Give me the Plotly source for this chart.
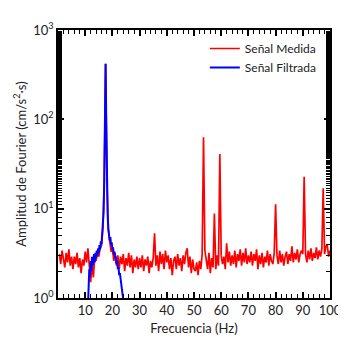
import plotly.graph_objects as go

# Red measured signal: frequencies 0.5..100 step 0.5 (listed per 10 Hz)
freq_red = [i * 0.5 for i in range(1, 201)]
amp_red = [
    3.1, 2.4, 3.4, 2.7, 2.2, 3.2, 2.5, 3.5, 2.3, 2.9, 2.1, 2.9, 2.4, 3.2, 2.2, 2.8, 1.9, 2.7, 2.3, 3.3,
    2.5, 3.6, 2.2, 1.5, 2.4, 1.7, 2.9, 2.6, 3.2, 2.9, 3.6, 3.9, 6.0, 20, 420, 20, 5.8, 4.2, 3.3, 3.6,
    2.6, 3.2, 2.3, 3.0, 2.1, 2.9, 2.4, 3.1, 2.0, 2.8, 2.3, 3.2, 2.2, 3.0, 1.9, 2.7, 2.2, 2.9, 2.1, 2.8,
    2.2, 3.0, 2.0, 2.7, 2.3, 2.9, 1.9, 2.6, 2.2, 2.8, 5.3, 2.3, 3.0, 2.0, 3.3, 2.4, 3.1, 2.1, 3.4, 2.5,
    3.0, 2.1, 2.8, 1.8, 2.6, 2.9, 2.1, 3.1, 2.3, 2.8, 2.0, 3.0, 2.4, 3.2, 3.6, 2.2, 2.9, 1.9, 2.7, 2.1,
    2.0, 2.5, 1.8, 2.6, 2.1, 3.1, 63, 3.4, 2.5, 2.1, 3.2, 1.9, 2.8, 2.2, 8.8, 2.1, 3.0, 2.3, 41, 3.0,
    2.4, 2.9, 2.1, 4.1, 2.5, 3.3, 2.3, 3.0, 2.4, 3.4, 2.2, 3.1, 2.6, 3.5, 2.3, 3.2, 2.5, 3.6, 2.4, 3.0,
    2.5, 3.3, 2.3, 3.1, 2.6, 3.5, 2.1, 3.0, 2.4, 3.2, 2.2, 2.9, 2.5, 3.4, 2.3, 3.1, 2.6, 2.4, 3.2, 11.2,
    3.0, 2.4, 3.4, 2.5, 3.1, 2.3, 2.9, 3.3, 2.4, 3.1, 2.6, 3.8, 2.5, 3.2, 2.7, 3.5, 2.5, 3.1, 3.4, 3.1,
    22.7, 3.1, 2.5, 3.4, 2.7, 3.6, 2.6, 3.2, 2.8, 3.7, 2.7, 3.4, 2.9, 3.5, 16.9, 3.1, 3.8, 3.9, 2.9, 3.4,
]

# Blue filtered signal: frequencies 11..24 step 0.25
freq_blue = [11 + i * 0.25 for i in range(53)]
amp_blue = [
    0.8, 1.5, 2.1, 1.7, 2.6, 2.0, 2.9, 2.3, 2.7, 3.1, 2.5, 3.2, 2.8, 3.4, 3.0, 3.6, 3.2, 3.9, 3.5, 4.3,
    4.0, 5.0, 6.5, 9.0, 20, 91, 420, 91, 20, 8.5, 6.0, 5.2, 4.4, 4.8, 3.9, 4.2, 3.5, 3.7, 3.1, 3.3,
    2.8, 2.9, 2.4, 2.6, 2.1, 2.2, 1.8, 1.9, 1.6, 1.5, 1.3, 1.15, 0.95,
]

x_ticks = [10, 20, 30, 40, 50, 60, 70, 80, 90, 100]
y_ticks = [1, 10, 100, 1000]
y_ticktext = ["10<sup>0</sup>", "10<sup>1</sup>", "10<sup>2</sup>", "10<sup>3</sup>"]

FONT = "Lato, Open Sans, sans-serif"

fig = go.Figure()
fig.add_trace(go.Scatter(x=freq_red, y=amp_red, mode="lines", name="Señal Medida",
                         line=dict(color="#ff0000", width=1.7)))
fig.add_trace(go.Scatter(x=freq_blue, y=amp_blue, mode="lines", name="Señal Filtrada",
                         line=dict(color="#0000ff", width=2)))
# invisible trace to carry the mirrored top/right axes
fig.add_trace(go.Scatter(x=freq_red[:2], y=amp_red[:2], xaxis="x2", yaxis="y2", mode="lines",
                         line=dict(width=0, color="rgba(0,0,0,0)"), showlegend=False, hoverinfo="skip"))

axis_common = dict(showgrid=False, zeroline=False, showline=True, linecolor="black", linewidth=1.6,
                   ticks="inside", tickcolor="black", tickwidth=1.6, ticklen=6,
                   tickfont=dict(family=FONT, size=13, color="#222"))
xminor = dict(ticks="inside", ticklen=4, dtick=2, tickcolor="black", tickwidth=1.3)
yminor = dict(ticks="inside", ticklen=4, tickcolor="black", tickwidth=1.3)

fig.update_layout(
    width=346, height=338,
    margin=dict(l=49, r=14, t=16, b=41),
    paper_bgcolor="white", plot_bgcolor="rgba(0,0,0,0)",
    showlegend=True,
    xaxis=dict(range=[0, 100], tickvals=x_ticks, minor=xminor,
               title=dict(text="Frecuencia (Hz)", font=dict(family=FONT, size=13, color="#222"), standoff=6),
               **axis_common),
    yaxis=dict(type="log", range=[0, 3], tickvals=y_ticks, ticktext=y_ticktext, minor=yminor,
               title=dict(text="Amplitud de Fourier (cm/s<sup>2</sup>·s)", font=dict(family=FONT, size=13, color="#222"), standoff=4),
               **axis_common),
    xaxis2=dict(range=[0, 100], tickvals=x_ticks, minor=xminor, overlaying="x", side="top",
                showticklabels=False, **axis_common),
    yaxis2=dict(type="log", range=[0, 3], tickvals=y_ticks, minor=yminor, overlaying="y", side="right",
                showticklabels=False, **axis_common),
    legend=dict(x=0.97, y=0.985, xanchor="right", yanchor="top", bgcolor="rgba(0,0,0,0)",
                font=dict(family=FONT, size=12, color="#222"), tracegroupgap=0, itemwidth=30),
)

fig.write_html("out.html")
